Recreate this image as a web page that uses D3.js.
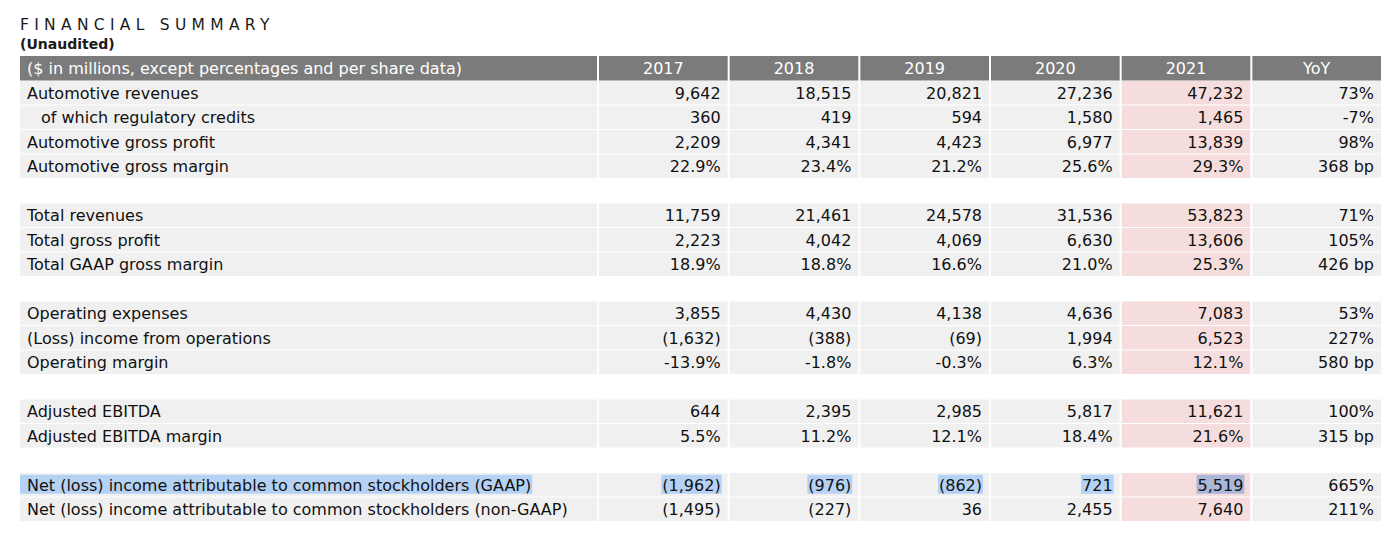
<!DOCTYPE html>
<html><head><meta charset="utf-8">
<script src="https://cdn.jsdelivr.net/npm/d3@7"></script>
<style>
html,body{margin:0;padding:0;background:#fff;}
svg text{font-family:"DejaVu Sans",sans-serif;}
</style></head>
<body><svg id="c" width="1400" height="538"></svg>
<script>
const title = "FINANCIAL SUMMARY";
const subtitle = "(Unaudited)";
const headerLabel = "($ in millions, except percentages and per share data)";
const years = ["2017","2018","2019","2020","2021"];
const yoyLabel = "YoY";
// null label = blank spacer row
const rowLabels = ["Automotive revenues","of which regulatory credits","Automotive gross profit","Automotive gross margin",null,
  "Total revenues","Total gross profit","Total GAAP gross margin",null,
  "Operating expenses","(Loss) income from operations","Operating margin",null,
  "Adjusted EBITDA","Adjusted EBITDA margin",null,
  "Net (loss) income attributable to common stockholders (GAAP)","Net (loss) income attributable to common stockholders (non-GAAP)"];
const rowTypes = ["num","num","num","pct",null,"num","num","pct",null,"num","num","pct",null,"num","pct",null,"num","num"];
const v2017 = [9642,360,2209,22.9,null,11759,2223,18.9,null,3855,-1632,-13.9,null,644,5.5,null,-1962,-1495];
const v2018 = [18515,419,4341,23.4,null,21461,4042,18.8,null,4430,-388,-1.8,null,2395,11.2,null,-976,-227];
const v2019 = [20821,594,4423,21.2,null,24578,4069,16.6,null,4138,-69,-0.3,null,2985,12.1,null,-862,36];
const v2020 = [27236,1580,6977,25.6,null,31536,6630,21.0,null,4636,1994,6.3,null,5817,18.4,null,721,2455];
const v2021 = [47232,1465,13839,29.3,null,53823,13606,25.3,null,7083,6523,12.1,null,11621,21.6,null,5519,7640];
const yoy = ["73%","-7%","98%","368 bp",null,"71%","105%","426 bp",null,"53%","227%","580 bp",null,"100%","315 bp",null,"665%","211%"];
const highlightRow = 16;

const yearVals = [v2017,v2018,v2019,v2020,v2021];
const svg = d3.select("#c");
const loc = d3.formatLocale({decimal:".",thousands:",",grouping:[3],currency:["$",""],minus:"-"});
const fmtInt = loc.format(",");
const fmtPct = loc.format(".1f");
function fmt(v,t){
  if(v==null) return "";
  if(t==="pct") return fmtPct(v)+"%";
  return v<0 ? "("+fmtInt(-v)+")" : fmtInt(v);
}

const cols = [...years, yoyLabel];
const x = d3.scaleBand().domain(cols).range([598,1382]);
const labelX0 = 20;
const y = d3.scaleBand().domain(d3.range(rowLabels.length+1)).range([56, 56 + 24.5*(rowLabels.length+1)]);

// title
svg.append("text").attr("x",20).attr("y",30).attr("font-size",15.5).attr("letter-spacing",5.3)
  .attr("fill","#1a1a1a").text(title);
svg.append("text").attr("x",20).attr("y",49).attr("font-size",14).attr("font-weight",600)
  .attr("fill","#1a1a1a").text(subtitle);

const FS = 16;
const BL = 6;
// header
const hy = y(0), hh = y.bandwidth();
svg.append("rect").attr("x",labelX0).attr("y",hy).attr("width",x(cols[0])-labelX0-1).attr("height",hh).attr("fill","#7b7b7b");
svg.append("text").attr("x",27).attr("y",hy+hh/2+BL).attr("font-size",FS).attr("fill","#fff").text(headerLabel);
cols.forEach(c=>{
  svg.append("rect").attr("x",x(c)+1).attr("y",hy).attr("width",x.bandwidth()-2).attr("height",hh).attr("fill","#7b7b7b");
  svg.append("text").attr("x",x(c)+x.bandwidth()/2).attr("y",hy+hh/2+BL).attr("text-anchor","middle")
    .attr("font-size",FS).attr("fill","#fff").text(c);
});

const hlG = svg.append("g");
const txtG = svg.append("g");
rowLabels.forEach((lab,i)=>{
  if(lab==null) return;
  const ry = y(i+1), rh = y.bandwidth();
  const cy = ry + rh/2;
  svg.insert("rect","g").attr("x",labelX0).attr("y",ry+0.5).attr("width",x(cols[0])-labelX0-1).attr("height",rh-1).attr("fill","#f0f0f0");
  const indent = lab.startsWith("of which") ? 14 : 0;
  const lt = txtG.append("text").attr("x",27+indent).attr("y",cy+BL).attr("font-size",FS).attr("fill","#111").text(lab);
  if(i===highlightRow){
    const w = lt.node().getComputedTextLength();
    hlG.append("rect").attr("x",labelX0).attr("y",cy-10).attr("width",27+indent+w+1-labelX0).attr("height",19).attr("fill","#b5d1f3");
  }
  cols.forEach((c,j)=>{
    const is21 = c==="2021";
    svg.insert("rect","g").attr("x",x(c)+1).attr("y",ry+0.5).attr("width",x.bandwidth()-2).attr("height",rh-1)
      .attr("fill", is21 ? "#f6dddd" : "#f0f0f0");
    const s = j<years.length ? fmt(yearVals[j][i], rowTypes[i]) : yoy[i];
    const tx = x(c)+x.bandwidth()-8;
    const t = txtG.append("text").attr("x",tx).attr("y",cy+BL).attr("text-anchor","end").attr("font-size",FS).attr("fill","#111").text(s);
    if(i===highlightRow && j<years.length){
      const w = t.node().getComputedTextLength();
      hlG.append("rect").attr("x",tx-w-1).attr("y",cy-10).attr("width",w+2).attr("height",19)
        .attr("fill", is21 ? "#aab7d9" : "#b5d1f3");
    }
  });
});
</script></body></html>
